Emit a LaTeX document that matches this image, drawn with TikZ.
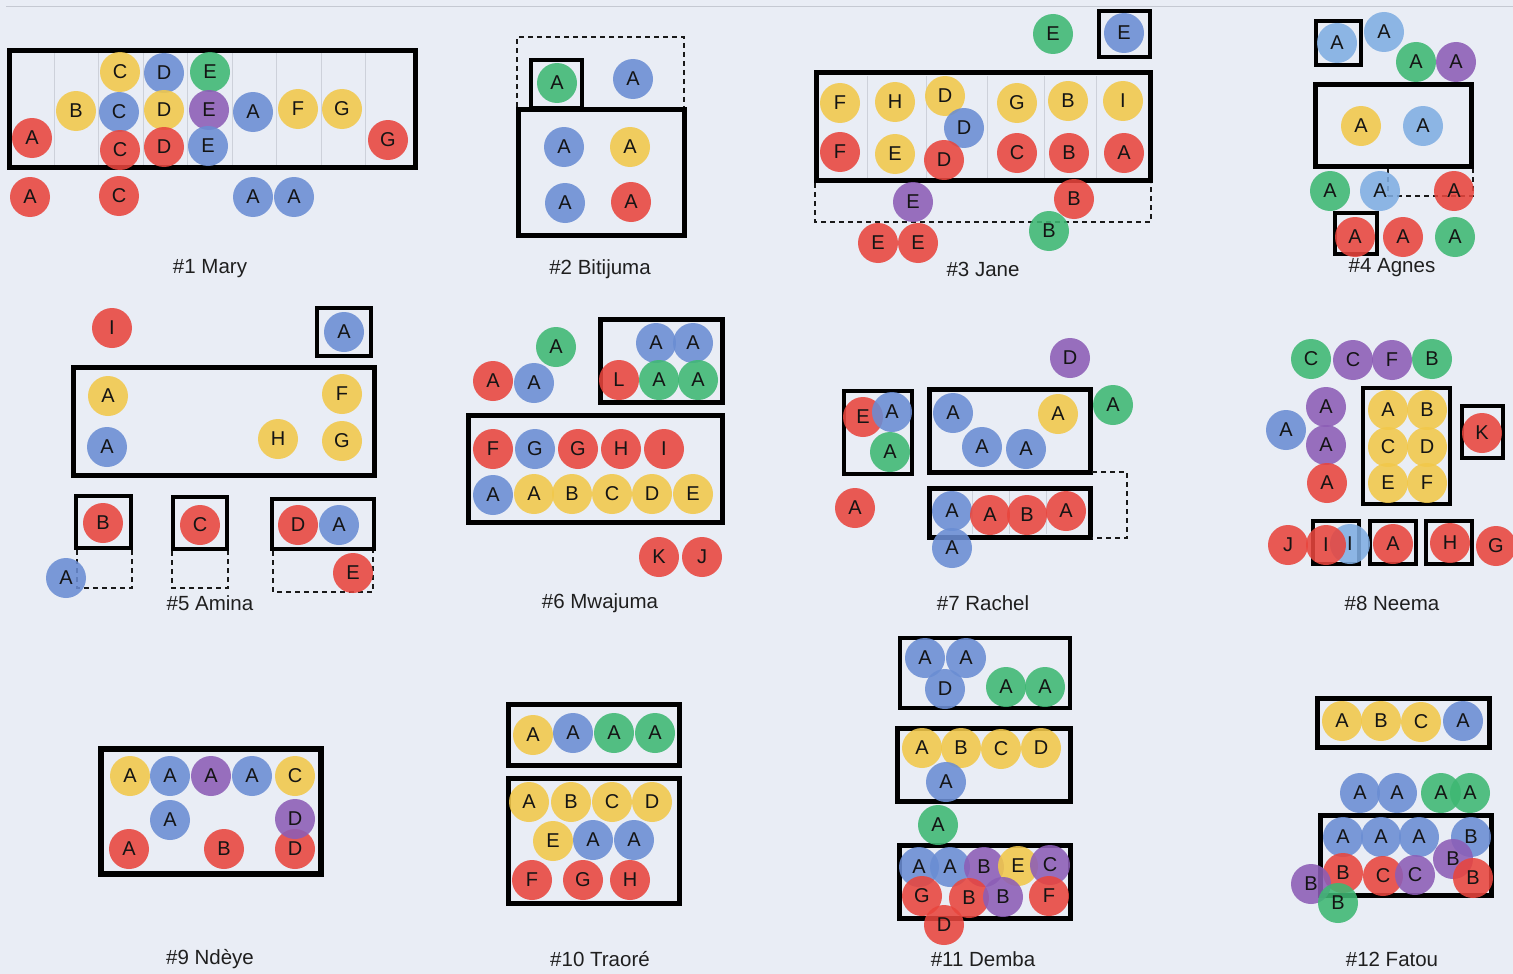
\documentclass[tikz,border=0pt]{standalone}
\usepackage{fontspec}
\setmainfont{Liberation Sans}
\definecolor{bg}{HTML}{E9EDF5}
\definecolor{topline}{HTML}{C5C9D2}
\definecolor{gridc}{HTML}{CDD1DA}
\definecolor{cr}{HTML}{E8453D}
\definecolor{cy}{HTML}{F2C84A}
\definecolor{cb}{HTML}{6A8DD3}
\definecolor{cg}{HTML}{3EB873}
\definecolor{cp}{HTML}{8C5DB6}
\definecolor{cl}{HTML}{80AEE2}
\tikzset{
 bead/.style={circle, minimum size=40pt, inner sep=0pt, fill opacity=0.88, text opacity=1, font=\fontsize{20}{20}\selectfont, text=black!92},
 bigbox/.style={draw=black, line width=5pt},
 smallbox/.style={draw=black, line width=4pt},
 dbox/.style={draw=black!90, line width=1.7pt, dash pattern=on 5pt off 4pt},
 gridline/.style={draw=gridc, line width=0.8pt},
 lbl/.style={font=\fontsize{20.5}{21}\selectfont, text=black!88}
}
\newcommand{\bead}[5]{\node[bead, fill=#4] (#1) at (#2,#3) {#5};}
\begin{document}
\begin{tikzpicture}[x=1pt,y=-1pt]
\fill[bg] (0,0) rectangle (1513,974);
\useasboundingbox (0,0) rectangle (1513,974);
\draw[topline, line width=1pt] (6,7) -- (1513,7);

% ---------- #1 Mary ----------
\foreach \gx in {54,98,143,187,232,276,321,365} {\draw[gridline] (\gx,53) -- (\gx,165);}
\draw[bigbox] (9,51) rectangle (415,167);
\bead{a1}{32}{138}{cr}{A}
\bead{a2}{76}{111}{cy}{B}
\bead{a3}{120}{72}{cy}{C}
\bead{a4}{119}{112}{cb}{C}
\bead{a5}{120}{150}{cr}{C}
\bead{a6}{164}{73}{cb}{D}
\bead{a7}{164}{110}{cy}{D}
\bead{a8}{164}{147}{cr}{D}
\bead{a9}{210}{72}{cg}{E}
\bead{a10}{209}{110}{cp}{E}
\bead{a11}{208}{146}{cb}{E}
\bead{a12}{253}{112}{cb}{A}
\bead{a13}{298}{109}{cy}{F}
\bead{a14}{342}{109}{cy}{G}
\bead{a15}{388}{140}{cr}{G}
\bead{a16}{30}{197}{cr}{A}
\bead{a17}{119}{196}{cr}{C}
\bead{a18}{253}{197}{cb}{A}
\bead{a19}{294}{197}{cb}{A}
\node[lbl] (l1) at (210,269) {\#1 Mary};

% ---------- #2 Bitijuma ----------
\draw[dbox] (517,107) -- (517,37) -- (684,37) -- (684,107);
\draw[smallbox] (531,60) rectangle (582,108);
\draw[bigbox] (518.5,109.5) rectangle (684.5,235.5);
\bead{b1}{557}{83}{cg}{A}
\bead{b2}{633}{79}{cb}{A}
\bead{b3}{564}{147}{cb}{A}
\bead{b4}{630}{147}{cy}{A}
\bead{b5}{565}{203}{cb}{A}
\bead{b6}{631}{202}{cr}{A}
\node[lbl] (l2) at (600,269) {\#2 Bitijuma};

% ---------- #3 Jane ----------
\foreach \gx in {867,926,987,1044,1096} {\draw[gridline] (\gx,76) -- (\gx,178);}
\draw[dbox] (815,183) -- (815,222) -- (1151,222) -- (1151,183);
\draw[smallbox] (1099,11) rectangle (1150,57);
\draw[bigbox] (816,73) rectangle (1150,180);
\bead{c1}{1053}{34}{cg}{E}
\bead{c2}{1124}{33}{cb}{E}
\bead{c3}{840}{103}{cy}{F}
\bead{c4}{895}{102}{cy}{H}
\bead{c5}{945}{96}{cy}{D}
\bead{c6}{964}{128}{cb}{D}
\bead{c7}{1017}{103}{cy}{G}
\bead{c8}{1068}{101}{cy}{B}
\bead{c9}{1123}{101}{cy}{I}
\bead{c10}{840}{152}{cr}{F}
\bead{c11}{895}{154}{cy}{E}
\bead{c12}{944}{160}{cr}{D}
\bead{c13}{1017}{153}{cr}{C}
\bead{c14}{1069}{153}{cr}{B}
\bead{c15}{1124}{153}{cr}{A}
\bead{c16}{913}{202}{cp}{E}
\bead{c17}{1074}{199}{cr}{B}
\bead{c18}{1049}{231}{cg}{B}
\bead{c19}{878}{243}{cr}{E}
\bead{c20}{918}{243}{cr}{E}
\node[lbl] (l3) at (983,269) {\#3 Jane};

% ---------- #4 Agnes ----------
\draw[dbox, line width=1.2pt] (1388,168) -- (1388,196);
\draw[dbox] (1388,196) -- (1473,196) -- (1473,168);
\draw[smallbox] (1316,21) rectangle (1361,65);
\draw[bigbox] (1315,85) rectangle (1471,166);
\draw[smallbox] (1335,213) rectangle (1377,254);
\bead{d1}{1337}{43}{cl}{A}
\bead{d2}{1384}{32}{cl}{A}
\bead{d3}{1416}{62}{cg}{A}
\bead{d4}{1456}{62}{cp}{A}
\bead{d5}{1361}{126}{cy}{A}
\bead{d6}{1423}{126}{cl}{A}
\bead{d7}{1330}{191}{cg}{A}
\bead{d8}{1380}{191}{cl}{A}
\bead{d9}{1454}{191}{cr}{A}
\bead{d10}{1355}{237}{cr}{A}
\bead{d11}{1403}{237}{cr}{A}
\bead{d12}{1455}{237}{cg}{A}
\node[lbl] (l4) at (1392,268) {\#4 Agnes};

% ---------- #5 Amina ----------
\draw[smallbox] (317,308) rectangle (371,356);
\draw[bigbox] (73,367) rectangle (374,475);
\draw[smallbox] (76,496) rectangle (131,548);
\draw[smallbox] (173,497) rectangle (227,549);
\draw[smallbox] (272,499) rectangle (374,549);
\draw[dbox] (77,550) -- (77,588) -- (132,588) -- (132,550);
\draw[dbox] (172,551) -- (172,588) -- (228,588) -- (228,551);
\draw[dbox] (273,551) -- (273,592) -- (373,592) -- (373,551);
\bead{e1}{112}{328}{cr}{I}
\bead{e2}{344}{332}{cb}{A}
\bead{e3}{108}{396}{cy}{A}
\bead{e4}{107}{447}{cb}{A}
\bead{e5}{278}{439}{cy}{H}
\bead{e6}{342}{394}{cy}{F}
\bead{e7}{342}{441}{cy}{G}
\bead{e8}{103}{523}{cr}{B}
\bead{e9}{66}{578}{cb}{A}
\bead{e10}{200}{525}{cr}{C}
\bead{e11}{298}{525}{cr}{D}
\bead{e12}{339}{525}{cb}{A}
\bead{e13}{353}{573}{cr}{E}
\node[lbl] (l5) at (210,603) {\#5 Amina};

% ---------- #6 Mwajuma ----------
\draw[bigbox] (600,319) rectangle (722,402);
\draw[bigbox] (468,415) rectangle (722,522);
\bead{f1}{556}{347}{cg}{A}
\bead{f2}{493}{381}{cr}{A}
\bead{f3}{534}{383}{cb}{A}
\bead{f4}{656}{343}{cb}{A}
\bead{f5}{693}{343}{cb}{A}
\bead{f6}{619}{380}{cr}{L}
\bead{f7}{659}{380}{cg}{A}
\bead{f8}{698}{380}{cg}{A}
\bead{f9}{493}{449}{cr}{F}
\bead{f10}{535}{449}{cb}{G}
\bead{f11}{578}{449}{cr}{G}
\bead{f12}{621}{449}{cr}{H}
\bead{f13}{664}{449}{cr}{I}
\bead{f14}{493}{495}{cb}{A}
\bead{f15}{534}{494}{cy}{A}
\bead{f16}{572}{494}{cy}{B}
\bead{f17}{612}{494}{cy}{C}
\bead{f18}{652}{494}{cy}{D}
\bead{f19}{693}{494}{cy}{E}
\bead{f20}{659}{557}{cr}{K}
\bead{f21}{702}{557}{cr}{J}
\node[lbl] (l6) at (600,603) {\#6 Mwajuma};

% ---------- #7 Rachel ----------
\foreach \gx in {972,1009,1046} {\draw[gridline] (\gx,491) -- (\gx,534);}
\draw[smallbox] (844,391) rectangle (912,474);
\draw[bigbox] (929,389) rectangle (1090,472);
\draw[bigbox] (929,488) rectangle (1090,537);
\draw[dbox] (1092,472) -- (1127,472) -- (1127,538) -- (1092,538);
\bead{g1}{1070}{358}{cp}{D}
\bead{g2}{863}{417}{cr}{E}
\bead{g3}{892}{412}{cb}{A}
\bead{g4}{890}{452}{cg}{A}
\bead{g5}{953}{413}{cb}{A}
\bead{g6}{1058}{414}{cy}{A}
\bead{g7}{982}{447}{cb}{A}
\bead{g8}{1026}{449}{cb}{A}
\bead{g9}{1113}{405}{cg}{A}
\bead{g10}{952}{511}{cb}{A}
\bead{g11}{990}{515}{cr}{A}
\bead{g12}{1027}{515}{cr}{B}
\bead{g13}{1066}{511}{cr}{A}
\bead{g14}{952}{548}{cb}{A}
\bead{g15}{855}{508}{cr}{A}
\node[lbl] (l7) at (983,603) {\#7 Rachel};

% ---------- #8 Neema ----------
\draw[smallbox] (1363,388) rectangle (1450,504);
\draw[smallbox] (1462,406) rectangle (1503,458);
\draw[smallbox] (1313,521) rectangle (1359,564);
\draw[smallbox] (1370,521) rectangle (1416,564);
\draw[smallbox] (1426,521) rectangle (1472,564);
\bead{h1}{1311}{359}{cg}{C}
\bead{h2}{1353}{360}{cp}{C}
\bead{h3}{1392}{360}{cp}{F}
\bead{h4}{1432}{359}{cg}{B}
\bead{h5}{1326}{407}{cp}{A}
\bead{h6}{1286}{430}{cb}{A}
\bead{h7}{1326}{445}{cp}{A}
\bead{h8}{1327}{483}{cr}{A}
\bead{h9}{1388}{410}{cy}{A}
\bead{h10}{1427}{410}{cy}{B}
\bead{h11}{1388}{447}{cy}{C}
\bead{h12}{1427}{447}{cy}{D}
\bead{h13}{1388}{483}{cy}{E}
\bead{h14}{1427}{483}{cy}{F}
\bead{h15}{1482}{433}{cr}{K}
\bead{h16}{1288}{545}{cr}{J}
\bead{h17}{1350}{544}{cl}{I}
\bead{h18}{1326}{545}{cr}{I}
\bead{h19}{1393}{544}{cr}{A}
\bead{h20}{1450}{543}{cr}{H}
\bead{h21}{1496}{546}{cr}{G}
\node[lbl] (l8) at (1392,603) {\#8 Neema};

% ---------- #9 Ndeye ----------
\draw[bigbox, line width=6pt] (101,749) rectangle (321,874);
\bead{i1}{130}{776}{cy}{A}
\bead{i2}{170}{776}{cb}{A}
\bead{i3}{211}{776}{cp}{A}
\bead{i4}{252}{776}{cb}{A}
\bead{i5}{295}{776}{cy}{C}
\bead{i6}{170}{820}{cb}{A}
\bead{i7}{129}{849}{cr}{A}
\bead{i8}{224}{849}{cr}{B}
\bead{i9}{295}{849}{cr}{D}
\bead{i10}{295}{819}{cp}{D}
\node[lbl] (l9) at (210,959) {\#9 Ndèye};

% ---------- #10 Traore ----------
\draw[bigbox] (508,704) rectangle (679,765);
\draw[bigbox] (508,778) rectangle (679,903);
\bead{j1}{533}{735}{cy}{A}
\bead{j2}{573}{733}{cb}{A}
\bead{j3}{614}{733}{cg}{A}
\bead{j4}{655}{733}{cg}{A}
\bead{j5}{529}{802}{cy}{A}
\bead{j6}{571}{802}{cy}{B}
\bead{j7}{612}{802}{cy}{C}
\bead{j8}{652}{802}{cy}{D}
\bead{j9}{553}{841}{cy}{E}
\bead{j10}{593}{840}{cb}{A}
\bead{j11}{634}{840}{cb}{A}
\bead{j12}{532}{880}{cr}{F}
\bead{j13}{583}{880}{cr}{G}
\bead{j14}{630}{880}{cr}{H}
\node[lbl] (l10) at (600,959) {\#10 Traoré};

% ---------- #11 Demba ----------
\draw[smallbox] (900,638) rectangle (1070,708);
\draw[bigbox] (897,728) rectangle (1070,801);
\draw[bigbox] (899,845) rectangle (1070,918);
\bead{k1}{925}{658}{cb}{A}
\bead{k2}{966}{658}{cb}{A}
\bead{k3}{945}{689}{cb}{D}
\bead{k4}{1006}{687}{cg}{A}
\bead{k5}{1045}{687}{cg}{A}
\bead{k6}{922}{748}{cy}{A}
\bead{k7}{961}{748}{cy}{B}
\bead{k8}{1001}{749}{cy}{C}
\bead{k9}{1041}{748}{cy}{D}
\bead{k10}{946}{782}{cb}{A}
\bead{k11}{938}{825}{cg}{A}
\bead{k12}{919}{867}{cb}{A}
\bead{k13}{950}{867}{cb}{A}
\bead{k14}{984}{867}{cp}{B}
\bead{k15}{1018}{866}{cy}{E}
\bead{k16}{1050}{865}{cp}{C}
\bead{k17}{922}{896}{cr}{G}
\bead{k18}{969}{898}{cr}{B}
\bead{k19}{1003}{897}{cp}{B}
\bead{k20}{1049}{896}{cr}{F}
\bead{k21}{944}{925}{cr}{D}
\node[lbl] (l11) at (983,959) {\#11 Demba};

% ---------- #12 Fatou ----------
\draw[bigbox] (1317,698) rectangle (1489,747);
\draw[bigbox] (1320,815) rectangle (1491,895);
\bead{m1}{1342}{721}{cy}{A}
\bead{m2}{1381}{721}{cy}{B}
\bead{m3}{1421}{722}{cy}{C}
\bead{m4}{1463}{721}{cb}{A}
\bead{m5}{1360}{793}{cb}{A}
\bead{m6}{1397}{793}{cb}{A}
\bead{m7}{1441}{793}{cg}{A}
\bead{m8}{1470}{793}{cg}{A}
\bead{m9}{1343}{837}{cb}{A}
\bead{m10}{1381}{837}{cb}{A}
\bead{m11}{1419}{837}{cb}{A}
\bead{m12}{1471}{837}{cb}{B}
\bead{m13}{1453}{859}{cp}{B}
\bead{m14}{1343}{873}{cr}{B}
\bead{m15}{1383}{876}{cr}{C}
\bead{m16}{1415}{875}{cp}{C}
\bead{m17}{1473}{878}{cr}{B}
\bead{m18}{1311}{884}{cp}{B}
\bead{m19}{1338}{903}{cg}{B}
\node[lbl] (l12) at (1392,959) {\#12 Fatou};
\end{tikzpicture}
\end{document}
